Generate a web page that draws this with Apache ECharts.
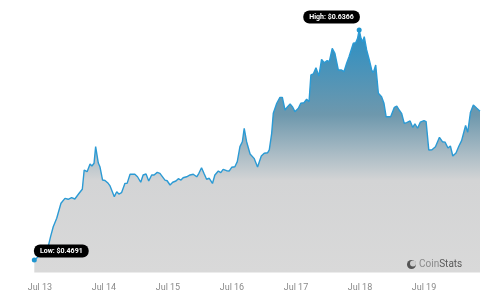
<!DOCTYPE html>
<html>
<head>
<meta charset="utf-8">
<script src="https://cdn.jsdelivr.net/npm/echarts@6/dist/echarts.min.js"></script>
<style>
  html, body { margin: 0; padding: 0; background: #fff; }
  #chart { width: 483px; height: 300px; }
</style>
</head>
<body>
<div id="chart"></div>
<script>
// hours since Jul 13 00:00
const hours = [
  -2.1, 1.5, 3.1, 4.0, 5.0, 6.3, 7.9, 9.4, 10.6, 11.9, 13.1, 13.8, 14.7, 15.9, 16.6, 17.3, 17.7, 18.8, 19.5, 20.3,
  20.9, 21.9, 22.5, 23.5, 24.4, 25.6, 26.3, 27.9, 28.8, 29.6, 30.6, 31.9, 32.7, 33.8, 35.6, 36.6, 37.8, 38.7, 39.8, 40.8,
  41.9, 42.8, 44.0, 45.0, 46.9, 47.7, 48.8, 49.8, 51.0, 51.9, 52.9, 53.7, 55.0, 56.3, 57.5, 58.8, 59.6, 60.6, 61.5, 62.5,
  63.5, 64.7, 65.6, 66.9, 67.8, 68.7, 70.0, 71.0, 71.9, 73.1, 74.0, 75.0, 75.9, 76.6, 77.5, 78.8, 80.3, 81.6, 83.0, 84.1,
  85.4, 86.0, 86.9, 87.5, 88.8, 90.0, 90.9, 91.9, 92.7, 93.8, 94.8, 95.6, 96.9, 97.8, 99.0, 100.0, 100.9, 101.6, 102.5, 103.5,
  104.6, 105.6, 106.6, 107.7, 108.5, 109.6, 110.6, 111.9, 113.1, 114.0, 115.0, 115.9, 116.6, 117.5, 118.4, 119.1, 119.7, 120.4, 121.0, 121.6,
  122.5, 123.5, 124.4, 125.0, 125.9, 126.9, 128.1, 129.0, 129.8, 131.5, 132.1, 132.9, 133.8, 134.7, 135.6, 136.6, 137.5, 138.8, 139.8, 140.6,
  141.6, 142.6, 144.0, 144.8, 145.8, 147.0, 148.3, 149.8, 150.9, 151.9, 153.0, 153.9, 154.8, 156.0, 157.1, 158.1, 158.8, 159.6, 160.4, 161.4,
  162.5, 163.8, 165.0
];
const prices = [
  0.4691, 0.4749, 0.4788, 0.4861, 0.4933, 0.4995, 0.5104, 0.5140, 0.5133, 0.5145, 0.5135, 0.5121, 0.5177, 0.5206, 0.5346, 0.5351, 0.5334, 0.5390, 0.5375, 0.5395,
  0.5516, 0.5397, 0.5370, 0.5273, 0.5270, 0.5249, 0.5230, 0.5152, 0.5188, 0.5171, 0.5181, 0.5249, 0.5249, 0.5315, 0.5315, 0.5297, 0.5257, 0.5310, 0.5317, 0.5266,
  0.5310, 0.5310, 0.5329, 0.5322, 0.5273, 0.5268, 0.5237, 0.5257, 0.5266, 0.5283, 0.5273, 0.5290, 0.5297, 0.5310, 0.5315, 0.5297, 0.5322, 0.5363, 0.5322, 0.5279,
  0.5286, 0.5248, 0.5310, 0.5339, 0.5327, 0.5351, 0.5341, 0.5339, 0.5366, 0.5370, 0.5407, 0.5516, 0.5552, 0.5650, 0.5552, 0.5463, 0.5431, 0.5368, 0.5448, 0.5468,
  0.5472, 0.5492, 0.5613, 0.5759, 0.5832, 0.5875, 0.5875, 0.5783, 0.5803, 0.5827, 0.5803, 0.5771, 0.5795, 0.5832, 0.5836, 0.5861, 0.5843, 0.6038, 0.6045, 0.6091,
  0.6031, 0.6152, 0.6127, 0.6142, 0.6135, 0.6232, 0.6196, 0.6074, 0.6074, 0.6062, 0.6123, 0.6171, 0.6167, 0.6269, 0.6273, 0.6305, 0.6366, 0.6305, 0.6280, 0.6317,
  0.6220, 0.6147, 0.6074, 0.6055, 0.6111, 0.5905, 0.5880, 0.5832, 0.5734, 0.5734, 0.5739, 0.5803, 0.5812, 0.5783, 0.5759, 0.5686, 0.5691, 0.5703, 0.5656, 0.5683,
  0.5650, 0.5694, 0.5705, 0.5698, 0.5492, 0.5494, 0.5516, 0.5584, 0.5552, 0.5549, 0.5506, 0.5521, 0.5448, 0.5470, 0.5521, 0.5560, 0.5562, 0.5670, 0.5621, 0.5765,
  0.5819, 0.5795, 0.5774
];
const tickHours = [0, 24, 48, 72, 96, 120, 144];
const tickLabels = ['Jul 13', 'Jul 14', 'Jul 15', 'Jul 16', 'Jul 17', 'Jul 18', 'Jul 19'];

const chart = echarts.init(document.getElementById('chart'));

const tag = {
  show: true,
  position: 'top',
  distance: 0,
  color: '#fff',
  fontFamily: 'Roboto',
  fontWeight: 'bold',
  fontSize: 7,
  backgroundColor: '#000',
  borderRadius: 6,
  padding: [3, 6, 3, 6]
};

chart.setOption({
  animation: false,
  grid: { left: 34.3, right: 3, top: 10, bottom: 27.5 },
  xAxis: {
    type: 'value',
    min: -2.1,
    max: 165,
    axisLine: { show: false },
    axisTick: { show: false },
    splitLine: { show: false },
    axisLabel: {
      customValues: tickHours,
      margin: 11,
      color: '#8a8a8a',
      fontFamily: 'Roboto',
      fontSize: 9,
      formatter: v => tickLabels[tickHours.indexOf(v)]
    }
  },
  yAxis: {
    type: 'value',
    min: 0.46,
    max: 0.6511,
    show: false,
    splitLine: { show: false }
  },
  series: [{
    type: 'line',
    data: hours.map((h, i) => [h, prices[i]]),
    showSymbol: false,
    lineStyle: { color: '#2b9ad4', width: 1.4 },
    areaStyle: {
      opacity: 1,
      color: new echarts.graphic.LinearGradient(0, 0, 0, 1, [
        { offset: 0, color: '#2a8fc4' },
        { offset: 0.35, color: '#6e98ad' },
        { offset: 0.62, color: '#d3d4d5' },
        { offset: 1, color: '#d9d9d9' }
      ])
    },
    markPoint: {
      symbol: 'circle',
      symbolSize: 5,
      itemStyle: { color: '#1f95cf' },
      data: [
        {
          type: 'max',
          label: Object.assign({}, tag, {
            distance: 4, offset: [-27.6, 0],
            formatter: p => 'High: $' + p.value.toFixed(4)
          })
        },
        {
          type: 'min',
          label: Object.assign({}, tag, {
            offset: [27, 0],
            formatter: p => 'Low: $' + p.value.toFixed(4)
          })
        }
      ]
    }
  }],
  graphic: [
    { type: 'circle', z: 100, shape: { cx: 411.5, cy: 264.5, r: 4.5 }, style: { fill: '#555' } },
    { type: 'circle', z: 101, shape: { cx: 413, cy: 263.5, r: 3 }, style: { fill: '#cfcfcf' } },
    {
      type: 'text', z: 100, left: 419, top: 259,
      style: {
        text: '{a|Coin}{b|Stats}',
        rich: {
          a: { fontFamily: 'Roboto', fontSize: 10, fill: '#8a8a8a' },
          b: { fontFamily: 'Roboto', fontSize: 10, fill: '#5a5a5a' }
        }
      }
    }
  ]
});
</script>
</body>
</html>
